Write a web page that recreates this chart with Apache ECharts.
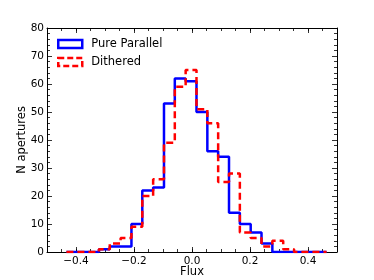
<!DOCTYPE html>
<html>
<head>
<meta charset="utf-8">
<script src="https://cdn.jsdelivr.net/npm/echarts@6/dist/echarts.min.js"></script>
<style>html,body{margin:0;padding:0;background:#fff;}#c{width:374px;height:280px;}</style>
</head>
<body>
<div id="c"></div>
<script>
// Histogram bin edges (Flux)
const binEdges = [-0.433, -0.3956, -0.3583, -0.3209, -0.2835, -0.2461, -0.2088, -0.1714, -0.1340, -0.0966,
  -0.0593, -0.0219, 0.0155, 0.0529, 0.0902, 0.1276, 0.1650, 0.2024, 0.2397, 0.2771,
  0.3145, 0.3519, 0.3892, 0.4266, 0.464];
// Counts per bin
const pureParallel = [0, 0, 0, 1, 2, 2, 10, 22, 23, 53, 62, 61, 50, 36, 34, 14, 10, 7, 3, 0, 0, 0, 0, 0];
const dithered     = [0, 0, 0, 1, 3, 5, 9, 20, 26, 39, 59, 65, 51, 46, 25, 28, 7, 5, 2, 4, 1, 0, 0, 0];
const xTickLabels = [-0.4, -0.2, 0.0, 0.2, 0.4];
const yTicks = [0, 10, 20, 30, 40, 50, 60, 70, 80];
const seriesNames = ['Pure Parallel', 'Dithered'];

function stepData(counts) {
  const d = counts.map((c, i) => [binEdges[i], c]);
  d.push([binEdges[binEdges.length - 1], counts[counts.length - 1]]);
  return d;
}
const FONT = 'DejaVu Sans';
function fmtX(v) {
  const r = Math.round(v * 10) / 10;
  const s = Math.abs(r).toFixed(1);
  return r < 0 ? '\u2212' + s : s;
}
const baseX = {type: 'value', min: -0.5, max: 0.5, splitLine: {show: false}, gridIndex: 0};
const chart = echarts.init(document.getElementById('c'), null, {renderer: 'canvas'});
chart.setOption({
  animation: false,
  backgroundColor: '#fff',
  grid: {left: 47, right: 37, top: 28, bottom: 28, containLabel: false, outerBoundsMode: 'none'},
  legend: {
    left: 57, top: 38, padding: 0, orient: 'vertical', itemWidth: 24, itemHeight: 8, itemGap: 6,
    textStyle: {fontFamily: FONT, fontSize: 11.5, color: '#000', padding: [0, 0, 0, 4]},
    data: [
      {name: seriesNames[0], icon: 'rect', itemStyle: {color: 'rgba(0,0,0,0)', borderColor: '#0000ff', borderWidth: 2.5, borderType: 'solid'}},
      {name: seriesNames[1], icon: 'rect', itemStyle: {color: 'rgba(0,0,0,0)', borderColor: '#ff0000', borderWidth: 2.5, borderType: [6, 3]}}
    ]
  },
  xAxis: [
    Object.assign({}, baseX, {position: 'bottom', interval: 0.05,
      axisLine: {show: true, onZero: false, lineStyle: {color: '#000', width: 1}},
      axisTick: {show: true, inside: true, length: 3, lineStyle: {color: '#000', width: 0.8}},
      axisLabel: {show: false}}),
    Object.assign({}, baseX, {position: 'bottom', interval: 0.05,
      axisLine: {show: false, onZero: false},
      axisTick: {show: true, inside: true, length: 5, customValues: xTickLabels, lineStyle: {color: '#000', width: 0.8}},
      axisLabel: {show: true, customValues: xTickLabels, formatter: fmtX, margin: 4, fontFamily: FONT, fontSize: 10.5, color: '#000'},
      name: 'Flux', nameLocation: 'middle', nameGap: 14, nameMoveOverlap: false,
      nameTextStyle: {fontFamily: FONT, fontSize: 11.5, color: '#000'}}),
    Object.assign({}, baseX, {position: 'top', interval: 0.05,
      axisLine: {show: true, onZero: false, lineStyle: {color: '#000', width: 1}},
      axisTick: {show: true, inside: true, length: 3, lineStyle: {color: '#000', width: 0.8}},
      axisLabel: {show: false}}),
    Object.assign({}, baseX, {position: 'top', interval: 0.05,
      axisLine: {show: false, onZero: false},
      axisTick: {show: true, inside: true, length: 5, customValues: xTickLabels, lineStyle: {color: '#000', width: 0.8}},
      axisLabel: {show: false}})
  ],
  yAxis: [
    {type: 'value', position: 'left', min: yTicks[0], max: yTicks[yTicks.length - 1], interval: 10,
      splitLine: {show: false},
      axisLine: {show: true, onZero: false, lineStyle: {color: '#000', width: 1}},
      axisTick: {show: true, inside: true, length: 5, lineStyle: {color: '#000', width: 0.8}},
      minorTick: {show: true, splitNumber: 5, length: 3, lineStyle: {color: '#000', width: 0.8}},
      axisLabel: {show: true, margin: 3, fontFamily: FONT, fontSize: 10.5, color: '#000'},
      name: 'N apertures', nameLocation: 'middle', nameGap: 19, nameRotate: 90, nameMoveOverlap: false,
      nameTextStyle: {fontFamily: FONT, fontSize: 11.5, color: '#000'}},
    {type: 'value', position: 'right', min: yTicks[0], max: yTicks[yTicks.length - 1], interval: 10,
      splitLine: {show: false},
      axisLine: {show: true, onZero: false, lineStyle: {color: '#000', width: 1}},
      axisTick: {show: true, inside: true, length: 5, lineStyle: {color: '#000', width: 0.8}},
      minorTick: {show: true, splitNumber: 5, length: 3, lineStyle: {color: '#000', width: 0.8}},
      axisLabel: {show: false}}
  ],
  series: [
    {name: seriesNames[0], type: 'line', step: 'end', xAxisIndex: 0, yAxisIndex: 0,
      data: stepData(pureParallel), symbol: 'none', z: 2,
      lineStyle: {color: '#0000ff', width: 2.5}, itemStyle: {color: '#0000ff'}},
    {name: seriesNames[1], type: 'line', step: 'end', xAxisIndex: 0, yAxisIndex: 0,
      data: stepData(dithered), symbol: 'none', z: 3,
      lineStyle: {color: '#ff0000', width: 2.5, type: [7, 4]}, itemStyle: {color: '#ff0000'}}
  ]
});
</script>
</body>
</html>
